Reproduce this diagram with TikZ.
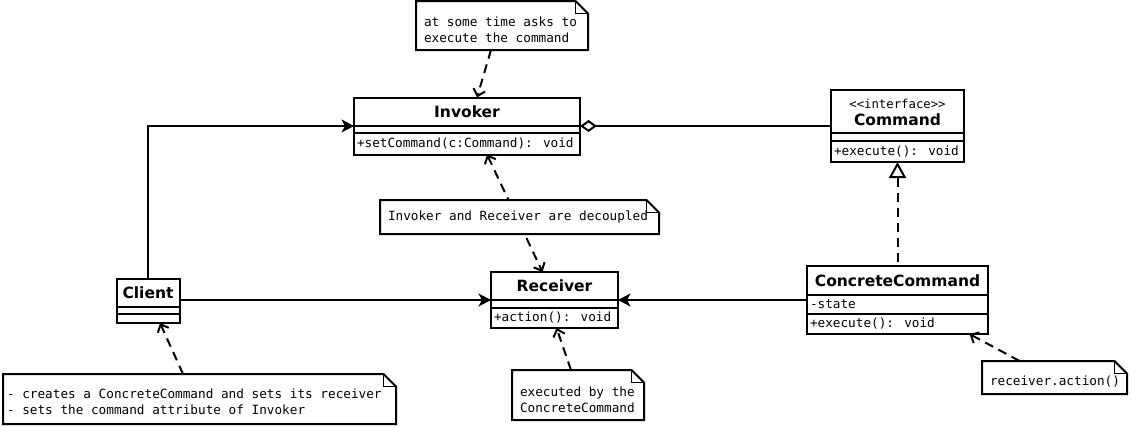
\documentclass[tikz,border=0pt]{standalone}
\usepackage{fontspec}
\setmainfont{DejaVu Sans}
\newfontfamily\monof{DejaVu Sans Mono}
\usetikzlibrary{arrows.meta,calc}
\newcommand\drawnote[1]{%
  \draw[line width=2pt, fill=white] (#1.north west) -- ([xshift=-12.5pt]#1.north east) -- ([yshift=-12.5pt]#1.north east) -- (#1.south east) -- (#1.south west) -- cycle;
  \draw[line width=0.9pt] ([xshift=-12.5pt]#1.north east) |- ([yshift=-12.5pt]#1.north east);}
\begin{document}
\begin{tikzpicture}[x=1pt,y=-1pt, line width=2pt,
  box/.style={draw, fill=white, line width=2pt, inner sep=0pt, outer sep=0pt},
  div/.style={line width=2pt},
  title/.style={font=\fontsize{15.5}{18}\selectfont\bfseries, inner sep=0pt},
  mono/.style={font=\monof\fontsize{12.7}{16}\selectfont, inner sep=0pt, anchor=west, align=left},
  stereo/.style={font=\monof\fontsize{12.3}{14}\selectfont, inner sep=0pt},
  note/.style={draw=none, inner sep=0pt, outer sep=0pt},
  assoc/.style={-{Stealth[length=12.5pt,width=13pt,inset=3.5pt]}},
  dep/.style={dash pattern=on 9pt off 6pt, -{Straight Barb[length=6.5pt,width=12pt]}},
  depboth/.style={dash pattern=on 9pt off 6pt, {Straight Barb[length=6.5pt,width=12pt]}-{Straight Barb[length=6.5pt,width=12pt]}},
]
\useasboundingbox (0,0) rectangle (1132,426);

% classes that the decoupled dependency joins (drawn before its note)
\node[box, minimum width=226pt, minimum height=57pt] (invoker) at (467,126) {};
\node[box, minimum width=127pt, minimum height=56pt] (receiver) at (554.5,300) {};
\draw[depboth] ($(invoker.south)+(20,0)$) -- ($(receiver.north)+(-12,0)$);

% other classes
\node[box, minimum width=133pt, minimum height=72pt] (command) at (897.5,126) {};
\node[box, minimum width=63pt, minimum height=44pt] (client) at (148,301) {};
\node[box, minimum width=181pt, minimum height=68pt] (concrete) at (897.5,300) {};

% Invoker
\node[title] (invokerT) at (467,112) {Invoker};
\draw[div] (354,126) -- (580,126);
\draw[div] (354,133) -- (580,133);
\node[mono] (invokerM) at (356,143.5) {+setCommand(c:Command): void};

% Command
\node[stereo] (commandS) at (897.5,104) {<<interface>>};
\node[title] (commandT) at (897.5,120) {Command};
\draw[div] (831,133) -- (964,133);
\draw[div] (831,141) -- (964,141);
\node[mono] (commandM) at (833,152) {+execute(): void};

% Client
\node[title] (clientT) at (148,293) {Client};
\draw[div] (116.5,307) -- (179.5,307);
\draw[div] (116.5,314) -- (179.5,314);

% Receiver
\node[title] (receiverT) at (554.5,285.5) {Receiver};
\draw[div] (491,299.5) -- (618,299.5);
\draw[div] (491,307.5) -- (618,307.5);
\node[mono] (receiverM) at (493,317.5) {+action(): void};

% ConcreteCommand
\node[title] (concreteT) at (897.5,281) {ConcreteCommand};
\draw[div] (807,295) -- (988,295);
\draw[div] (807,314) -- (988,314);
\node[mono] (concreteA) at (809,304.5) {-state};
\node[mono] (concreteM) at (809,323.5) {+execute(): void};

% notes
\node[note, minimum width=172pt, minimum height=49pt] (n1) at (502,25.5) {};
\drawnote{n1}
\node[mono] (n1t) at (423,29.5) {at some time asks to\\execute the command};

\node[note, minimum width=279pt, minimum height=34pt] (n2) at (519.5,217) {};
\drawnote{n2}
\node[mono] (n2t) at (387,217) {Invoker and Receiver are decoupled};

\node[note, minimum width=393pt, minimum height=50pt] (n3) at (199.5,399) {};
\drawnote{n3}
\node[mono] (n3t) at (6,402) {- creates a ConcreteCommand and sets its receiver\\- sets the command attribute of Invoker};

\node[note, minimum width=132pt, minimum height=50pt] (n4) at (578,395) {};
\drawnote{n4}
\node[mono] (n4t) at (519,399.5) {executed by the\\ConcreteCommand};

\node[note, minimum width=145pt, minimum height=33pt] (n5) at (1054.5,377.5) {};
\drawnote{n5}
\node[mono] (n5t) at (989,381.5) {receiver.action()};

% connectors
\draw[assoc] (client.north) |- (invoker.west);
\draw[assoc] (client.east |- receiver.west) -- (receiver.west);
\draw[assoc] (concrete.west |- receiver.east) -- (receiver.east);
\draw[{Diamond[open,length=17pt,width=12pt]}-] (invoker.east) -- (command.west |- invoker.east);
\draw[dash pattern=on 9pt off 6pt, {Triangle[open,length=16pt,width=17pt]}-] (command.south) -- (concrete.north);

\draw[dep] ($(n1.south)+(-11,0)$) -- ($(invoker.north)+(10,0)$);
\draw[dep] ($(n3.north)+(-16.5,0)$) -- ($(client.south)+(12,0)$);
\draw[dep] ($(n4.north)+(-7,0)$) -- ($(receiver.south)+(2,0)$);
\draw[dep] ($(n5.north)+(-35,0)$) -- ($(concrete.south)+(72,0)$);
\end{tikzpicture}
\end{document}
